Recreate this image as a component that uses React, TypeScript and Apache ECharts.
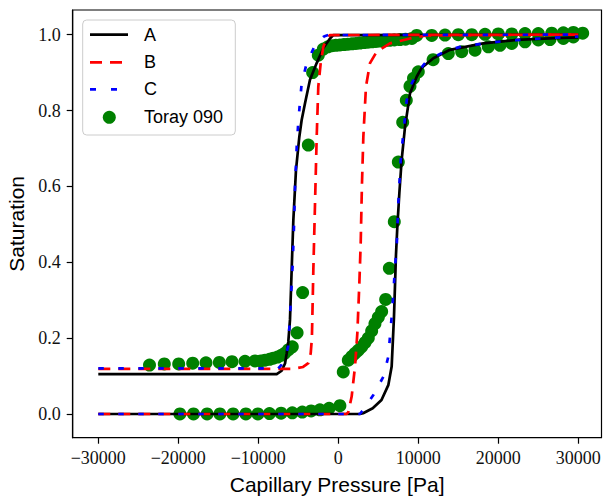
import React, { useEffect, useRef } from "react";
import * as echarts from "echarts";

const xTicks = [-30000, -20000, -10000, 0, 10000, 20000, 30000];
const yTicks = [0, 0.2, 0.4, 0.6, 0.8, 1.0];
const legendNames = ["A", "B", "C", "Toray 090"];

// Curve A (black solid)
const curveALower: number[][] = [
  [-30000, 0], [2700, 0], [3100, 0.002], [4300, 0.015], [5400, 0.037], [6250, 0.076],
  [6670, 0.125], [6960, 0.256], [7210, 0.42], [7380, 0.494], [7630, 0.582], [7920, 0.67],
  [8340, 0.757], [8960, 0.845], [9800, 0.889], [10400, 0.912], [11880, 0.938], [13960, 0.96],
  [18130, 0.977], [22300, 0.986], [26460, 0.99], [30000, 0.993],
];
const curveAUpper: number[][] = [
  [-30000, 0.105], [-7700, 0.105], [-7080, 0.114], [-6660, 0.133], [-6450, 0.16], [-6250, 0.19],
  [-6040, 0.248], [-5830, 0.38], [-5620, 0.511], [-5290, 0.643], [-4870, 0.731], [-4580, 0.775],
  [-4160, 0.819], [-3540, 0.881], [-2700, 0.925], [-1870, 0.965], [-1040, 0.99], [-620, 0.999],
  [30000, 1.0],
];

// Curve B (red dashed)
const curveBLower: number[][] = [
  [-30000, 0], [1050, 0], [1250, 0.005], [1670, 0.046], [2090, 0.125], [2380, 0.213],
  [2630, 0.344], [2800, 0.45], [2950, 0.6], [3130, 0.731], [3460, 0.863], [3960, 0.925],
  [4800, 0.955], [6460, 0.977], [8960, 0.99], [11050, 0.998], [30000, 1.0],
];
const curveBUpper: number[][] = [
  [-30000, 0.119], [-5700, 0.119], [-4400, 0.124], [-3750, 0.134], [-3450, 0.16], [-3300, 0.2],
  [-3120, 0.38], [-2910, 0.555], [-2700, 0.731], [-2500, 0.863], [-2200, 0.925], [-1870, 0.968],
  [-1450, 0.99], [-1040, 0.999], [30000, 1.0],
];

// Curve C (blue dotted)
const curveCLower: number[][] = [
  [-30000, 0], [2700, 0], [3130, 0.011], [4380, 0.05], [5630, 0.098], [6250, 0.151],
  [6460, 0.204], [6670, 0.256], [6880, 0.318], [7090, 0.388], [7300, 0.44], [7500, 0.555],
  [7800, 0.67], [8130, 0.74], [8550, 0.827], [9170, 0.871], [9800, 0.898], [11050, 0.93],
  [13500, 0.958], [15630, 0.97], [21050, 0.984], [26050, 0.991], [30000, 0.995],
];
const curveCUpper: number[][] = [
  [-30000, 0.12], [-7500, 0.12], [-7080, 0.13], [-6600, 0.15], [-6250, 0.18], [-5950, 0.292],
  [-5700, 0.397], [-5540, 0.494], [-5410, 0.599], [-5200, 0.704], [-5000, 0.77], [-4790, 0.823],
  [-4580, 0.871], [-3950, 0.925], [-2910, 0.972], [-1800, 0.995], [-1250, 0.999], [30000, 1.0],
];

// Toray 090 measurements
const torayImbibition: number[][] = [
  [-23600, 0.129], [-21750, 0.132], [-19950, 0.132], [-18200, 0.134], [-16540, 0.135],
  [-14870, 0.136], [-13290, 0.138], [-11660, 0.139], [-10410, 0.14], [-9700, 0.14],
  [-9160, 0.142], [-8600, 0.144], [-8120, 0.147], [-7600, 0.15], [-7080, 0.155],
  [-6700, 0.16], [-6250, 0.169], [-5750, 0.177], [-5150, 0.214], [-4460, 0.32],
  [-3750, 0.709], [-3210, 0.9], [-2500, 0.946], [-1870, 0.962], [-1300, 0.968],
  [-800, 0.971], [-300, 0.972], [200, 0.973], [700, 0.974], [1200, 0.975], [1700, 0.976],
  [2200, 0.977], [2700, 0.978], [3200, 0.979], [3700, 0.98], [4200, 0.981], [4700, 0.982],
  [5200, 0.983], [5800, 0.984], [6400, 0.985], [7000, 0.986], [7700, 0.987], [8400, 0.988],
  [9200, 0.99], [9800, 0.998], [11680, 0.998], [13340, 0.999], [15000, 1.0], [16680, 1.0],
  [18340, 1.001], [20000, 1.002], [21680, 1.002], [23340, 1.003], [25000, 1.003],
  [26680, 1.004], [28130, 1.005], [29380, 1.006], [30550, 1.004],
];
const torayDrainage: number[][] = [
  [-19800, 0], [-18100, 0], [-16400, 0], [-14800, 0], [-13150, 0], [-11550, 0], [-10050, 0],
  [-8600, 0.001], [-7150, 0.002], [-5750, 0.003], [-4500, 0.005], [-3400, 0.008],
  [-2300, 0.011], [-1150, 0.015], [200, 0.022], [620, 0.111], [1250, 0.142], [1670, 0.151],
  [2090, 0.16], [2500, 0.168], [2920, 0.177], [3330, 0.188], [3750, 0.2], [4170, 0.219],
  [4580, 0.238], [5000, 0.255], [5420, 0.27], [5920, 0.302], [6380, 0.384], [7000, 0.507],
  [7500, 0.664], [8050, 0.769], [8500, 0.827], [8960, 0.864], [9400, 0.885], [10000, 0.902],
  [11850, 0.934], [13750, 0.95], [15420, 0.955], [17090, 0.959], [18750, 0.968],
  [20210, 0.972], [21680, 0.977], [23340, 0.981], [25000, 0.986], [26460, 0.987],
  [28130, 0.99], [29380, 0.994],
];

const BLACK = "#000000";
const RED = "#ff0000";
const BLUE = "#0000ff";
const GREEN = "#008000";
const SERIF = "'Liberation Serif', 'DejaVu Serif', serif";
const SANS = "'Liberation Sans', Arial, sans-serif";
const RED_DASH = [12, 8];
const BLUE_DASH = [5.5, 14.5];

function lineSeries(name: string, data: number[][], color: string, dash: any) {
  return {
    type: "line",
    name,
    data,
    showSymbol: false,
    symbol: "none",
    silent: true,
    lineStyle: { color, width: 2.7, type: dash, cap: "butt", join: "round" },
  };
}

export default function App() {
  const ref = useRef<HTMLDivElement>(null);
  useEffect(() => {
    document.body.style.margin = "0";
    if (!ref.current) return;
    const chart = echarts.init(ref.current, null, { renderer: "svg" });
    const fmtX = (v: number) => (v < 0 ? "\u2212" + Math.abs(v) : String(v));
    const legendRows = [34.7, 62.3, 89.3, 117.3];
    const hx0 = 90;
    const hx1 = 128;
    const legendGraphics: any[] = [
      {
        type: "rect",
        shape: { x: 82.7, y: 20, width: 152.6, height: 115, r: 4 },
        style: { fill: "rgba(255,255,255,0.8)", stroke: "#cccccc", lineWidth: 1 },
        z: 100,
      },
      {
        type: "line",
        shape: { x1: hx0, y1: legendRows[0], x2: hx1, y2: legendRows[0] },
        style: { stroke: BLACK, lineWidth: 2.7 },
        z: 101,
      },
      {
        type: "line",
        shape: { x1: hx0, y1: legendRows[1], x2: hx1, y2: legendRows[1] },
        style: { stroke: RED, lineWidth: 2.7, lineDash: RED_DASH, lineCap: "butt" },
        z: 101,
      },
      {
        type: "line",
        shape: { x1: hx0, y1: legendRows[2], x2: hx1, y2: legendRows[2] },
        style: { stroke: BLUE, lineWidth: 2.7, lineDash: [6, 15], lineCap: "butt" },
        z: 101,
      },
      {
        type: "circle",
        shape: { cx: 109.3, cy: legendRows[3], r: 6.5 },
        style: { fill: GREEN },
        z: 101,
      },
    ];
    legendNames.forEach((n, i) => {
      legendGraphics.push({
        type: "text",
        x: 144,
        y: legendRows[i],
        style: {
          text: n,
          font: `18px ${SANS}`,
          fill: "#000",
          verticalAlign: "middle",
          align: "left",
        },
        z: 101,
      });
    });

    chart.setOption({
      animation: false,
      backgroundColor: "#ffffff",
      grid: {
        left: 72.7,
        top: 10,
        right: 1.5,
        bottom: 58.3,
        containLabel: false,
        outerBoundsMode: "none",
        show: true,
        borderColor: "#000",
        borderWidth: 1.2,
        backgroundColor: "transparent",
      },
      xAxis: {
        type: "value",
        min: -33200,
        max: 32900,
        axisLine: { show: true, onZero: false, lineStyle: { color: "#000", width: 1.2 } },
        axisTick: {
          show: true,
          inside: false,
          length: 6,
          lineStyle: { color: "#000", width: 1.2 },
          customValues: xTicks,
        },
        axisLabel: {
          customValues: xTicks,
          formatter: fmtX,
          fontFamily: SERIF,
          fontSize: 18,
          color: "#111",
          margin: 11,
        },
        splitLine: { show: false },
        name: "Capillary Pressure [Pa]",
        nameLocation: "middle",
        nameGap: 36,
        nameTextStyle: { fontFamily: SANS, fontSize: 21, color: "#000" },
      },
      yAxis: {
        type: "value",
        min: -0.0625,
        max: 1.065,
        axisLine: { show: true, onZero: false, lineStyle: { color: "#000", width: 1.2 } },
        axisTick: {
          show: true,
          inside: false,
          length: 6,
          lineStyle: { color: "#000", width: 1.2 },
          customValues: yTicks,
        },
        axisLabel: {
          customValues: yTicks,
          formatter: (v: number) => v.toFixed(1),
          fontFamily: SERIF,
          fontSize: 18,
          color: "#111",
          margin: 12,
        },
        splitLine: { show: false },
        name: "Saturation",
        nameLocation: "middle",
        nameGap: 46,
        nameTextStyle: { fontFamily: SANS, fontSize: 21, color: "#000" },
      },
      series: [
        {
          type: "scatter",
          name: "Toray 090",
          data: torayImbibition,
          symbol: "circle",
          symbolSize: 13,
          itemStyle: { color: GREEN, opacity: 1 },
          silent: true,
        },
        {
          type: "scatter",
          name: "Toray 090",
          data: torayDrainage,
          symbol: "circle",
          symbolSize: 13,
          itemStyle: { color: GREEN, opacity: 1 },
          silent: true,
        },
        lineSeries("A", curveALower, BLACK, "solid"),
        lineSeries("A", curveAUpper, BLACK, "solid"),
        lineSeries("B", curveBLower, RED, RED_DASH),
        lineSeries("B", curveBUpper, RED, RED_DASH),
        lineSeries("C", curveCLower, BLUE, BLUE_DASH),
        lineSeries("C", curveCUpper, BLUE, BLUE_DASH),
      ],
      graphic: legendGraphics,
    });
    return () => chart.dispose();
  }, []);
  return <div ref={ref} style={{ width: 603, height: 496 }} />;
}
